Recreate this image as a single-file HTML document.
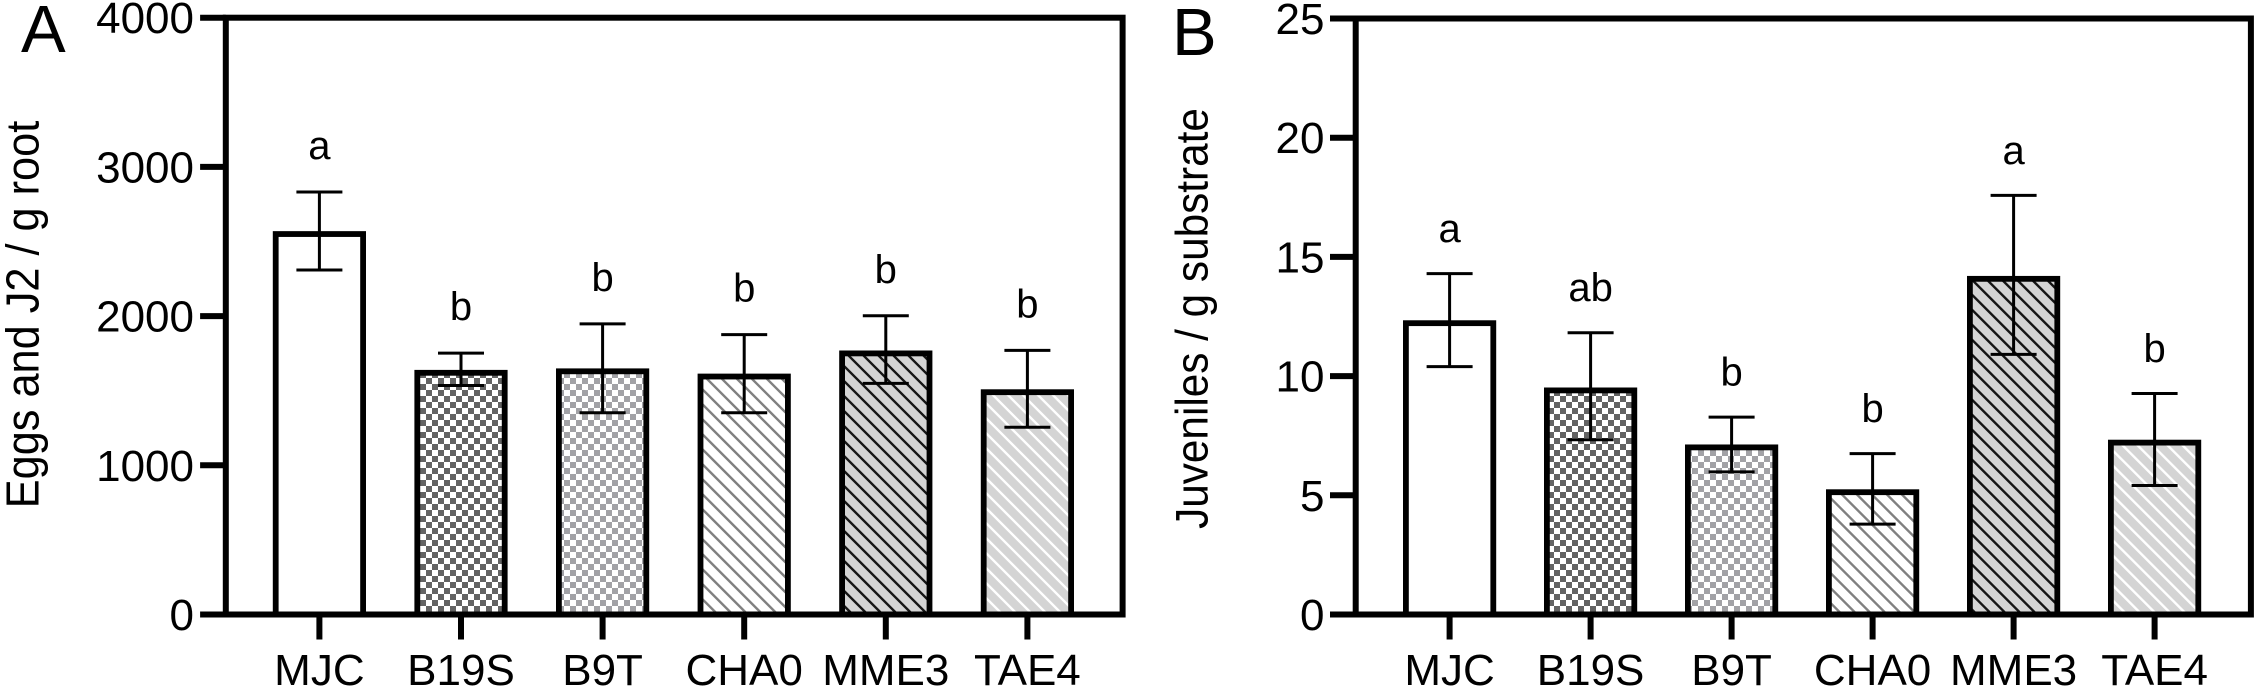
<!DOCTYPE html>
<html lang="en">
<head>
<meta charset="utf-8">
<title>Eggs and juveniles per treatment</title>
<style>
  html, body { margin: 0; padding: 0; background: #fff; width: 2258px; height: 688px; overflow: hidden; }
  svg { display: block; }
  text { font-family: "Liberation Sans", Arial, sans-serif; fill: #000; }
</style>
</head>
<body>
<svg id="figure" xmlns="http://www.w3.org/2000/svg" width="2258" height="688" viewBox="0 0 2258 688">
  <defs>
    <pattern id="pat-check-dark" patternUnits="userSpaceOnUse" width="12" height="12">
      <rect width="12" height="12" fill="#fff"/>
      <rect width="6" height="6" fill="#636363"/>
      <rect x="6" y="6" width="6" height="6" fill="#636363"/>
    </pattern>
    <pattern id="pat-check-light" patternUnits="userSpaceOnUse" width="12" height="12">
      <rect width="12" height="12" fill="#fff"/>
      <rect width="6" height="6" fill="#a2a2a6"/>
      <rect x="6" y="6" width="6" height="6" fill="#a2a2a6"/>
    </pattern>
    <pattern id="pat-hatch-grey" patternUnits="userSpaceOnUse" width="10.6" height="10.6" patternTransform="rotate(45)">
      <rect width="10.6" height="10.6" fill="#fff"/>
      <rect x="0" y="0" width="10.6" height="2.4" fill="#808080"/>
    </pattern>
    <pattern id="pat-hatch-black" patternUnits="userSpaceOnUse" width="10.6" height="10.6" patternTransform="rotate(45)">
      <rect width="10.6" height="10.6" fill="#d4d4d4"/>
      <rect x="0" y="0" width="10.6" height="2.4" fill="#151515"/>
    </pattern>
    <pattern id="pat-hatch-white" patternUnits="userSpaceOnUse" width="10.6" height="10.6" patternTransform="rotate(45)">
      <rect width="10.6" height="10.6" fill="#d4d4d4"/>
      <rect x="0" y="0" width="10.6" height="2.4" fill="#fff"/>
    </pattern>
  </defs>
</svg>
<script>
const categories = ['MJC', 'B19S', 'B9T', 'CHA0', 'MME3', 'TAE4'];
const barFills = ['#fff', 'url(#pat-check-dark)', 'url(#pat-check-light)', 'url(#pat-hatch-grey)', 'url(#pat-hatch-black)', 'url(#pat-hatch-white)'];

const ticksA = [0, 1000, 2000, 3000, 4000];
const meansA = [2550, 1620, 1630, 1595, 1750, 1490];
const errHighA = [2832, 1752, 1948, 1876, 2002, 1770];
const errLowA = [2309, 1535, 1352, 1352, 1549, 1255];
const lettersA = ['a', 'b', 'b', 'b', 'b', 'b'];

const ticksB = [0, 5, 10, 15, 20, 25];
const meansB = [12.22, 9.4, 7.01, 5.13, 14.08, 7.21];
const errHighB = [14.3, 11.82, 8.28, 6.75, 17.58, 9.27];
const errLowB = [10.4, 7.33, 5.98, 3.79, 10.91, 5.41];
const lettersB = ['a', 'ab', 'b', 'b', 'a', 'b'];

const svg = document.getElementById('figure');
const NS = 'http://www.w3.org/2000/svg';

function make(tag, props, parent) {
  const el = document.createElementNS(NS, tag);
  for (const k in props) el.setAttribute(k, props[k]);
  parent.appendChild(el);
  return el;
}

function drawPanel(p) {
  const group = make('g', {}, svg);
  
  

  const yMax = p.ticks[p.ticks.length - 1];
  const yScale = v => p.y0 - (v / yMax) * (p.y0 - p.yTop);
  const xScale = i => p.xFirst + i * p.xStep;

  const panelLabel = make('text', { x: p.labelX, y: p.labelY, 'font-size': p.labelSize }, group);
  panelLabel.textContent = p.id;
  
  

  const title = make('text', {
    x: 0, y: 0, 'font-size': p.titleSize, 'text-anchor': 'middle',
    transform: 'translate(' + p.titleX + ',' + p.titleY + ') rotate(-90) scale(1,1.07)'
  }, group);
  title.textContent = p.title;
  
  

  p.means.forEach((m, i) => {
    const bar = make('rect', {
      x: xScale(i) - 43.7, y: yScale(m), width: 87.4, height: p.y0 - yScale(m),
      fill: barFills[i], stroke: '#000', 'stroke-width': 5.8
    }, group);
    
    

    const stem = make('line', {
      x1: xScale(i), x2: xScale(i), y1: yScale(p.high[i]), y2: yScale(p.low[i]),
      stroke: '#000', 'stroke-width': 3
    }, group);
    
    

    const capHigh = make('line', {
      x1: xScale(i) - 23, x2: xScale(i) + 23, y1: yScale(p.high[i]), y2: yScale(p.high[i]),
      stroke: '#000', 'stroke-width': 3
    }, group);
    
    

    const capLow = make('line', {
      x1: xScale(i) - 23, x2: xScale(i) + 23, y1: yScale(p.low[i]), y2: yScale(p.low[i]),
      stroke: '#000', 'stroke-width': 3
    }, group);
    
    

    const letter = make('text', {
      x: xScale(i), y: yScale(p.high[i]) - p.letterGap, 'font-size': 40, 'text-anchor': 'middle'
    }, group);
    letter.textContent = p.letters[i];
    
    

    const tick = make('line', {
      x1: xScale(i), x2: xScale(i), y1: p.y0, y2: 639.5,
      stroke: '#000', 'stroke-width': 6
    }, group);
    
    

    const label = make('text', {
      x: xScale(i), y: 685, 'font-size': 44, 'text-anchor': 'middle'
    }, group);
    label.textContent = categories[i];
    
    
  });

  const frame = make('rect', {
    x: p.xLeft, y: p.yTop, width: p.xRight - p.xLeft, height: p.y0 - p.yTop,
    fill: 'none', stroke: '#000', 'stroke-width': 6
  }, group);
  
  

  p.ticks.forEach(t => {
    const tick = make('line', {
      x1: p.xLeft - 25.7, x2: p.xLeft, y1: yScale(t), y2: yScale(t),
      stroke: '#000', 'stroke-width': 6
    }, group);
    
    

    const label = make('text', {
      x: p.tickLabelX, y: yScale(t) + 15.5, 'font-size': 44, 'text-anchor': 'end'
    }, group);
    label.textContent = String(t);
    
    
  });
}

drawPanel({
  id: 'A', title: 'Eggs and J2 / g root',
  ticks: ticksA, means: meansA, high: errHighA, low: errLowA, letters: lettersA,
  xLeft: 225.8, xRight: 1122.6, yTop: 17.7, y0: 614.5,
  xFirst: 319.4, xStep: 141.6, tickLabelX: 194, letterGap: 33,
  labelX: 21, labelY: 52, labelSize: 67,
  titleX: 38.5, titleY: 314.5, titleSize: 43.3
});

drawPanel({
  id: 'B', title: 'Juveniles / g substrate',
  ticks: ticksB, means: meansB, high: errHighB, low: errLowB, letters: lettersB,
  xLeft: 1355.7, xRight: 2250.9, yTop: 18.5, y0: 614.5,
  xFirst: 1449.6, xStep: 141, tickLabelX: 1324.5, letterGap: 31.5,
  labelX: 1172, labelY: 55, labelSize: 67,
  titleX: 1207.5, titleY: 318.5, titleSize: 42.3
});
</script>
</body>
</html>
